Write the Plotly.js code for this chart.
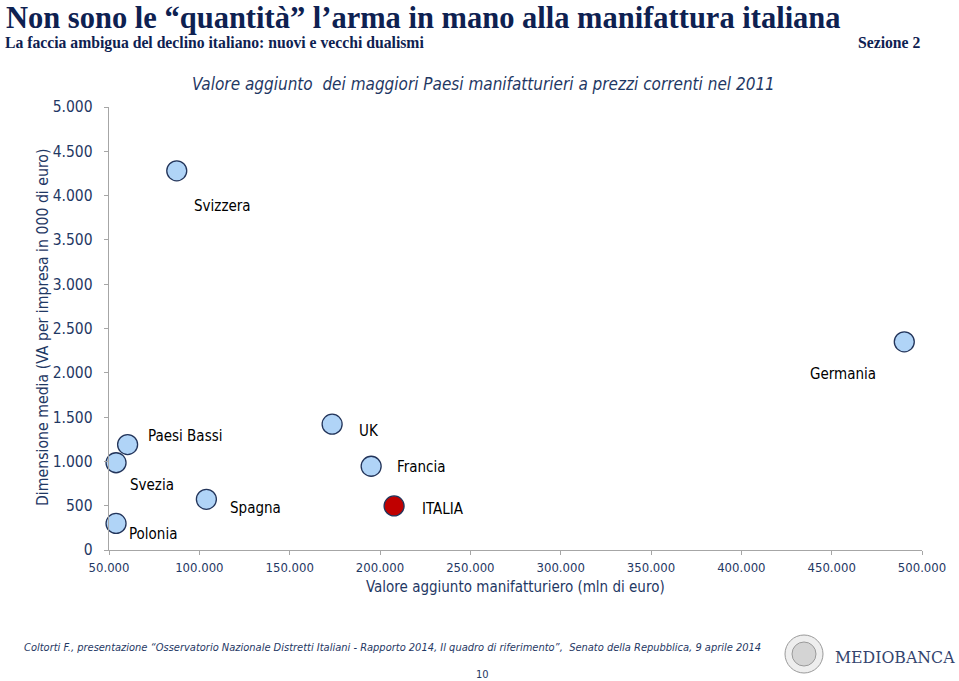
<!DOCTYPE html>
<html>
<head>
<meta charset="utf-8">
<script src="https://cdn.plot.ly/plotly-3.0.1.min.js"></script>
<style>
html,body{margin:0;padding:0;background:#fff;}
#chart{width:959px;height:681px;}
</style>
</head>
<body>
<div id="chart"></div>
<script>
// ---- data ----
const countries = ["Svizzera","Paesi Bassi","Svezia","Polonia","Spagna","UK","Francia","ITALIA","Germania"];
const valoreAggiunto = [87500, 60300, 53900, 53900, 103900, 173500, 195100, 207800, 490200]; // mln di euro
const dimensioneMedia = [4280, 1190, 985, 300, 572, 1420, 945, 497, 2350]; // VA per impresa (000 euro)
const xTicks = [50000,100000,150000,200000,250000,300000,350000,400000,450000,500000];
const yTicks = [0,500,1000,1500,2000,2500,3000,3500,4000,4500,5000];

// ---- styling ----
const W = 959, H = 681;
const M = {l:109, r:37, t:107, b:131};
const navy = "#1f3864";
const titleNavy = "#0e2151";
const sans = "'DejaVu Sans Condensed', 'DejaVu Sans', sans-serif";
const serif = "'Liberation Serif', 'DejaVu Serif', serif";
const fills = countries.map(c => c === "ITALIA" ? "#c00000" : "#b0d4f7");
// label offsets (pixels) relative to each bubble
const labelShift = {
  "Svizzera":[46,-35], "Paesi Bassi":[57,9], "Svezia":[36,-22], "Polonia":[37,-11],
  "Spagna":[49,-9], "UK":[37,-7], "Francia":[50,-1], "ITALIA":[49,-3], "Germania":[-61,-32]
};

const pw = W - M.l - M.r, ph = H - M.t - M.b;
const px = x => (x - M.l) / pw;
const py = y => (H - M.b - y) / ph;

const trace = {
  type: "scatter", mode: "markers",
  x: valoreAggiunto, y: dimensioneMedia, text: countries,
  marker: {size: 20, color: fills, line: {color: "#22345a", width: 1.3}},
  hoverinfo: "text+x+y", cliponaxis: false
};

const annotations = countries.map((c, i) => ({
  x: valoreAggiunto[i], y: dimensioneMedia[i], xref: "x", yref: "y",
  text: c, showarrow: false, xshift: labelShift[c][0], yshift: labelShift[c][1],
  font: {family: sans, size: 15, color: "#000"}
}));

const pageTexts = [
  {x: px(5), y: py(0), text: "<b>Non sono le “quantità” l’arma in mano alla manifattura italiana</b>", xanchor: "left", yanchor: "top", borderpad: 0,
   font: {family: serif, size: 30.5, color: titleNavy}},
  {x: px(3), y: py(43), text: "<b>La faccia ambigua del declino italiano: nuovi e vecchi dualismi</b>", xanchor: "left",
   font: {family: serif, size: 15.7, color: titleNavy}},
  {x: px(922), y: py(43), text: "<b>Sezione 2</b>", xanchor: "right",
   font: {family: serif, size: 15.7, color: titleNavy}},
  {x: px(483), y: py(84), text: "<i>Valore aggiunto  dei maggiori Paesi manifatturieri a prezzi correnti nel 2011</i>",
   font: {family: sans, size: 17, color: navy}},
  {x: px(515), y: py(587), text: "Valore aggiunto manifatturiero (mln di euro)",
   font: {family: sans, size: 15, color: navy}},
  {x: px(42), y: py(328), text: "Dimensione media (VA per impresa in 000 di euro)", textangle: -90,
   font: {family: sans, size: 15.7, color: navy}},
  {x: px(392), y: py(647), text: "<i>Coltorti F., presentazione “Osservatorio Nazionale Distretti Italiani - Rapporto 2014, Il quadro di riferimento”,  Senato della Repubblica, 9 aprile 2014</i>",
   font: {family: sans, size: 11, color: navy}},
  {x: px(482), y: py(674), text: "10", font: {family: sans, size: 11, color: navy}},
  {x: px(895), y: py(657), text: "MEDIOBANCA", font: {family: "'DejaVu Serif Condensed', 'Liberation Serif', serif", size: 17.5, color: "#34446e"}}
].map(a => Object.assign({xref: "paper", yref: "paper", showarrow: false, xanchor: "center", yanchor: "middle"}, a));

const shapes = [
  {type: "circle", xref: "paper", yref: "paper", x0: px(785), x1: px(823), y0: py(635), y1: py(673),
   line: {color: "#9a9a9a", width: 1}, fillcolor: "#eeeeee"},
  {type: "circle", xref: "paper", yref: "paper", x0: px(792), x1: px(816), y0: py(642), y1: py(666),
   line: {color: "#9a9a9a", width: 1}, fillcolor: "#d4d4d4"}
];

const layout = {
  width: W, height: H, margin: M,
  paper_bgcolor: "#fff", plot_bgcolor: "#fff",
  separators: ",.",
  showlegend: false,
  font: {family: sans, color: navy},
  xaxis: {
    range: [50000, 500000], tickvals: xTicks, tickformat: ",d",
    showgrid: false, zeroline: false, showline: true, linecolor: "#a6a6a6", linewidth: 1.3,
    ticks: "outside", ticklen: 4, tickcolor: "#a6a6a6",
    tickfont: {family: sans, size: 13, color: navy}, ticklabelstandoff: 1
  },
  yaxis: {
    range: [0, 5000], tickvals: yTicks, tickformat: ",d",
    showgrid: false, zeroline: false, showline: true, linecolor: "#a6a6a6", linewidth: 1.3,
    ticks: "outside", ticklen: 4, tickcolor: "#a6a6a6",
    tickfont: {family: sans, size: 15.5, color: navy}, ticklabelstandoff: 8
  },
  annotations: annotations.concat(pageTexts),
  shapes: shapes
};

Plotly.newPlot("chart", [trace], layout, {displayModeBar: false, staticPlot: true});
</script>
</body>
</html>
